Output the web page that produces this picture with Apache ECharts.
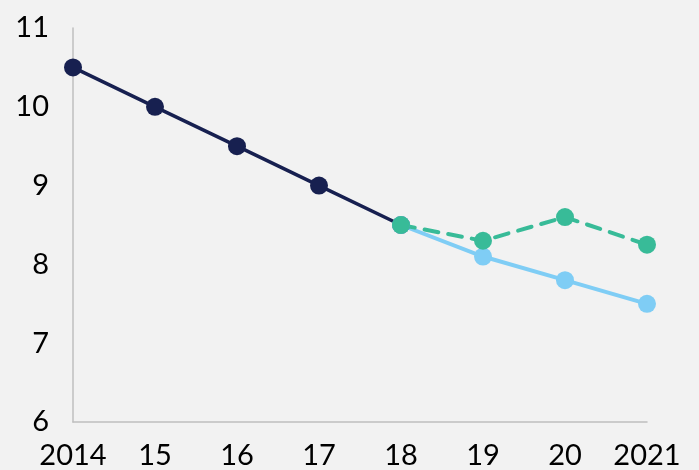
<!DOCTYPE html>
<html>
<head>
<meta charset="utf-8">
<script src="https://cdn.jsdelivr.net/npm/echarts@6/dist/echarts.min.js"></script>
<style>
  html, body { margin: 0; padding: 0; background: #f2f2f2; }
  #chart { width: 699px; height: 470px; }
</style>
</head>
<body>
<div id="chart"></div>
<script>
// categories on the x axis
const years = ['2014', '15', '16', '17', '18', '19', '20', '2021']
// actual values up to 2018
const actual = [10.5, 10.0, 9.5, 9.0, 8.5, null, null, null]
// projection (solid light blue)
const projA = [null, null, null, null, 8.5, 8.1, 7.8, 7.5]
// projection (dashed green)
const projB = [null, null, null, null, 8.5, 8.3, 8.6, 8.25]

const chart = echarts.init(document.getElementById('chart'))
const axisFont = { fontFamily: 'Lato', fontSize: 29, color: '#000' }

chart.setOption({
  backgroundColor: '#f2f2f2',
  animation: false,
  grid: { left: 73, right: 52, top: 28, bottom: 48 },
  xAxis: {
    type: 'category',
    data: years,
    boundaryGap: false,
    axisLine: { lineStyle: { color: '#bfbfbf', width: 1.5 } },
    axisTick: { show: false },
    axisLabel: Object.assign({ margin: 19, interval: 0, hideOverlap: false }, axisFont),
    splitLine: { show: false }
  },
  yAxis: {
    type: 'value',
    min: 6,
    max: 11,
    interval: 1,
    axisLine: { show: true, lineStyle: { color: '#bfbfbf', width: 1.5 } },
    axisTick: { show: false },
    axisLabel: Object.assign({ margin: 24 }, axisFont),
    splitLine: { show: false }
  },
  series: [
    {
      name: 'actual',
      type: 'line',
      data: actual,
      symbol: 'circle',
      symbolSize: 18,
      itemStyle: { color: '#172050' },
      lineStyle: { color: '#172050', width: 3.5 }
    },
    {
      name: 'projA',
      type: 'line',
      data: projA,
      symbol: 'circle',
      symbolSize: 18,
      itemStyle: { color: '#7fcdf5' },
      lineStyle: { color: '#7fcdf5', width: 4 }
    },
    {
      name: 'projB',
      type: 'line',
      data: projB,
      symbol: 'circle',
      symbolSize: 18,
      itemStyle: { color: '#38bb98' },
      lineStyle: { color: '#38bb98', width: 4, type: [14, 10], cap: 'round' }
    }
  ]
})
</script>
</body>
</html>
